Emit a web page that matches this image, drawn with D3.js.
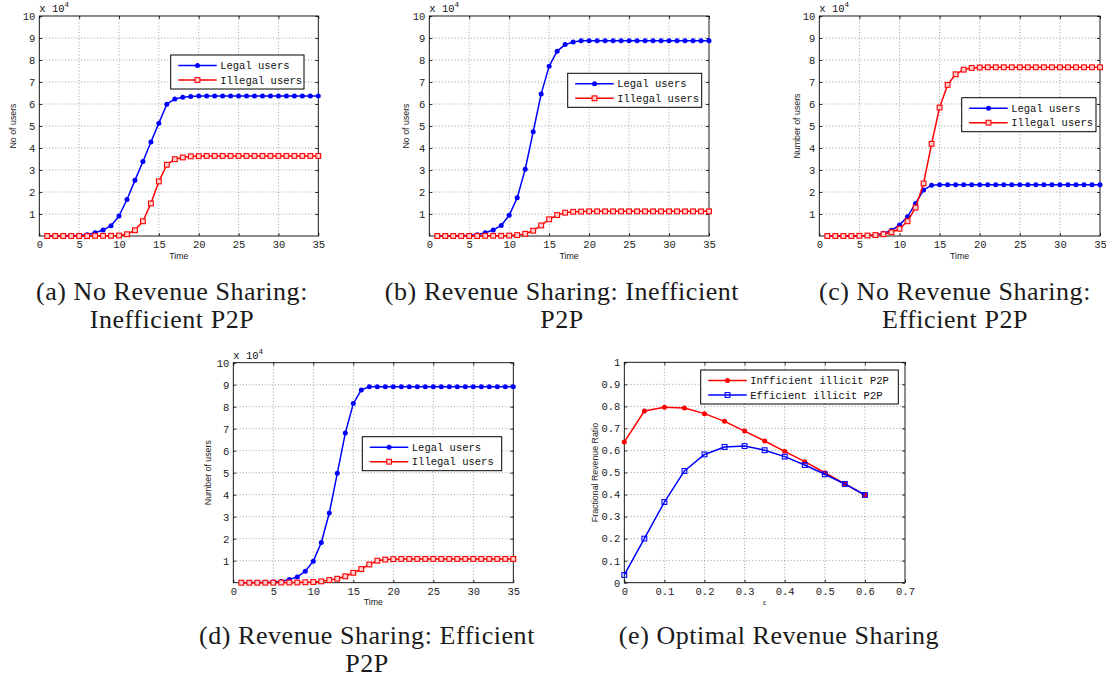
<!DOCTYPE html>
<html>
<head>
<meta charset="utf-8">
<script src="https://cdn.jsdelivr.net/npm/d3@7"></script>
<style>
  body { margin: 0; background: #fff; }
  svg { display: block; }
  .tick text { font-family: 'Liberation Mono', 'DejaVu Sans Mono', monospace; font-size: 10.5px; fill: #222; }
  .tick line { stroke: #000; stroke-width: 0.8; }
  .grid { stroke: #777; stroke-width: 0.7; stroke-dasharray: 1 2.2; }
  .frame { fill: none; stroke: #000; stroke-width: 0.9; }
  .axis-label { font-family: 'Liberation Sans', Arial, sans-serif; font-size: 8.8px; fill: #222; }
  .legend-text { font-family: 'Liberation Mono', 'DejaVu Sans Mono', monospace; font-size: 10.5px; fill: #111; }
  .caption { font-family: 'Liberation Serif', 'Times New Roman', serif; font-size: 26px; letter-spacing: 0.55px; fill: #1a1a1a; }
</style>
</head>
<body>
<svg id="chart" width="1106" height="679"></svg>
<script>
// time steps (x axis of a-d)
const time = [1, 2, 3, 4, 5, 6, 7, 8, 9, 10, 11, 12, 13, 14, 15, 16, 17, 18, 19, 20,
  21, 22, 23, 24, 25, 26, 27, 28, 29, 30, 31, 32, 33, 34, 35];

// users, in units of 10^4
const legalA = [0.01, 0.01, 0.01, 0.02, 0.03, 0.06, 0.15, 0.27, 0.47, 0.91, 1.66, 2.53, 3.39, 4.27, 5.13, 5.99, 6.23, 6.31, 6.34, 6.36,
  6.36, 6.36, 6.36, 6.36, 6.36, 6.36, 6.36, 6.36, 6.36, 6.36, 6.36, 6.36, 6.36, 6.36, 6.36];
const illegalA = [0, 0, 0, 0, 0, 0, 0.01, 0.01, 0.01, 0.02, 0.08, 0.26, 0.67, 1.48, 2.48, 3.24, 3.49, 3.57, 3.62, 3.63,
  3.64, 3.64, 3.64, 3.64, 3.64, 3.64, 3.64, 3.64, 3.64, 3.64, 3.64, 3.64, 3.64, 3.64, 3.64];

const legalB = [0.01, 0.01, 0.01, 0.02, 0.03, 0.06, 0.15, 0.27, 0.48, 0.94, 1.74, 3.03, 4.74, 6.46, 7.72, 8.40, 8.70, 8.82, 8.87, 8.88,
  8.88, 8.88, 8.88, 8.88, 8.88, 8.88, 8.88, 8.88, 8.88, 8.88, 8.88, 8.88, 8.88, 8.88, 8.88];
const illegalB = [0, 0, 0, 0, 0, 0, 0.01, 0.01, 0.01, 0.02, 0.04, 0.10, 0.24, 0.48, 0.76, 0.95, 1.06, 1.10, 1.11, 1.12,
  1.12, 1.12, 1.12, 1.12, 1.12, 1.12, 1.12, 1.12, 1.12, 1.12, 1.12, 1.12, 1.12, 1.12, 1.12];

const legalC = [0, 0, 0, 0.01, 0.01, 0.02, 0.05, 0.12, 0.26, 0.50, 0.88, 1.48, 2.09, 2.31, 2.33, 2.33, 2.33, 2.33, 2.33, 2.33,
  2.33, 2.33, 2.33, 2.33, 2.33, 2.33, 2.33, 2.33, 2.33, 2.33, 2.33, 2.33, 2.33, 2.33, 2.33];
const illegalC = [0, 0, 0, 0, 0.01, 0.02, 0.04, 0.08, 0.17, 0.33, 0.67, 1.29, 2.39, 4.19, 5.84, 6.87, 7.35, 7.56, 7.64, 7.66,
  7.67, 7.67, 7.67, 7.67, 7.67, 7.67, 7.67, 7.67, 7.67, 7.67, 7.67, 7.67, 7.67, 7.67, 7.67];

const legalD = [0, 0.01, 0.01, 0.02, 0.03, 0.06, 0.15, 0.26, 0.52, 0.98, 1.83, 3.17, 4.97, 6.80, 8.14, 8.76, 8.91, 8.91, 8.91, 8.91,
  8.91, 8.91, 8.91, 8.91, 8.91, 8.91, 8.91, 8.91, 8.91, 8.91, 8.91, 8.91, 8.91, 8.91, 8.91];
const illegalD = [0, 0, 0, 0, 0, 0.01, 0.01, 0.01, 0.02, 0.03, 0.06, 0.12, 0.18, 0.29, 0.45, 0.62, 0.83, 1.00, 1.05, 1.07,
  1.08, 1.08, 1.08, 1.08, 1.08, 1.08, 1.08, 1.08, 1.08, 1.08, 1.08, 1.08, 1.08, 1.08, 1.08];

// optimal revenue sharing
const epsilon = [0, 0.05, 0.1, 0.15, 0.2, 0.25, 0.3, 0.35, 0.4, 0.45, 0.5, 0.55, 0.6];
const inefficientRatio = [0.638, 0.779, 0.796, 0.793, 0.767, 0.732, 0.688, 0.643, 0.596, 0.549, 0.499, 0.448, 0.398];
const efficientRatio = [0.035, 0.200, 0.366, 0.507, 0.582, 0.616, 0.620, 0.601, 0.572, 0.534, 0.492, 0.448, 0.398];

const timeTicks = [0, 5, 10, 15, 20, 25, 30, 35];
const userTicks = [1, 2, 3, 4, 5, 6, 7, 8, 9, 10];
const epsTicks = [0, 0.1, 0.2, 0.3, 0.4, 0.5, 0.6, 0.7];
const ratioTicks = [0, 0.1, 0.2, 0.3, 0.4, 0.5, 0.6, 0.7, 0.8, 0.9, 1];

const BLUE = '#0000ff';
const RED = '#ff0000';

const svg = d3.select('#chart');

const panels = [
  {
    box: [39.3, 16, 318.3, 236], ylabel: 'No of users', ylabelOff: 23, legend: [170.7, 55, 133.3],
    series: [
      { name: 'Legal users', x: time, y: legalA, color: BLUE, marker: 'circle' },
      { name: 'Illegal users', x: time, y: illegalA, color: RED, marker: 'square' }
    ]
  },
  {
    box: [429.3, 16, 709, 236], ylabel: 'No of users', ylabelOff: 20, legend: [567.7, 73.3, 134],
    series: [
      { name: 'Legal users', x: time, y: legalB, color: BLUE, marker: 'circle' },
      { name: 'Illegal users', x: time, y: illegalB, color: RED, marker: 'square' }
    ]
  },
  {
    box: [819.3, 16, 1100, 236], ylabel: 'Number of users', ylabelOff: 19.5, legend: [961.7, 97.7, 134.3],
    series: [
      { name: 'Legal users', x: time, y: legalC, color: BLUE, marker: 'circle' },
      { name: 'Illegal users', x: time, y: illegalC, color: RED, marker: 'square' }
    ]
  },
  {
    box: [233.3, 362.7, 513.3, 582.7], ylabel: 'Number of users', ylabelOff: 22, legend: [362.3, 436.7, 139.4],
    series: [
      { name: 'Legal users', x: time, y: legalD, color: BLUE, marker: 'circle' },
      { name: 'Illegal users', x: time, y: illegalD, color: RED, marker: 'square' }
    ]
  }
].map(p => Object.assign(p, {
  xDomain: [0, 35], yDomain: [0, 10], xTicks: timeTicks, yTicks: userTicks,
  xGrid: timeTicks.slice(1, -1), yGrid: userTicks.slice(0, -1),
  xlabel: 'Time', xFormat: d => d, yFormat: d => d, exponent: true
}));

panels.push({
  box: [624.3, 362.3, 905, 582.7], ylabel: 'Fractional Revenue Ratio', ylabelOff: 26, legend: [700.7, 370, 197.6],
  xDomain: [0, 0.7], yDomain: [0, 1], xTicks: epsTicks, yTicks: ratioTicks,
  xGrid: epsTicks.slice(1, -1), yGrid: ratioTicks.slice(1, -1),
  xlabel: 'ε', xlabelSize: 7, xFormat: d3.format('~g'), yFormat: d3.format('~g'), exponent: false,
  series: [
    { name: 'Infficient illicit P2P', x: epsilon, y: inefficientRatio, color: RED, marker: 'circle' },
    { name: 'Efficient illicit P2P', x: epsilon, y: efficientRatio, color: BLUE, marker: 'square' }
  ]
});

function addMarker(sel, type, color, cx, cy) {
  if (type === 'circle') {
    sel.append('circle').attr('cx', cx).attr('cy', cy).attr('r', 2.5).attr('fill', color);
  } else {
    sel.append('rect')
      .attr('x', cx - 2.4).attr('y', cy - 2.4).attr('width', 4.8).attr('height', 4.8)
      .attr('fill', '#ffd0d0').attr('fill-opacity', color === RED ? 1 : 0)
      .attr('stroke', color).attr('stroke-width', 1.1);
  }
}

function drawPanel(p) {
  const [left, top, right, bottom] = p.box;
  const x = d3.scaleLinear().domain(p.xDomain).range([left, right]);
  const y = d3.scaleLinear().domain(p.yDomain).range([bottom, top]);
  const g = svg.append('g');

  // grid
  g.selectAll('.gx').data(p.xGrid).join('line')
    .attr('class', 'grid')
    .attr('x1', d => x(d)).attr('x2', d => x(d))
    .attr('y1', top).attr('y2', bottom);
  g.selectAll('.gy').data(p.yGrid).join('line')
    .attr('class', 'grid')
    .attr('x1', left).attr('x2', right)
    .attr('y1', d => y(d)).attr('y2', d => y(d));

  // axes, ticks point inward like matlab
  g.append('g').attr('transform', `translate(0,${bottom})`)
    .call(d3.axisBottom(x).tickValues(p.xTicks).tickSize(-3).tickPadding(5).tickFormat(p.xFormat))
    .call(a => a.select('.domain').remove());
  g.append('g').attr('transform', `translate(${left},0)`)
    .call(d3.axisLeft(y).tickValues(p.yTicks).tickSize(-3).tickPadding(4).tickFormat(p.yFormat))
    .call(a => a.select('.domain').remove());
  g.append('g').attr('transform', `translate(0,${top})`)
    .call(d3.axisTop(x).tickValues(p.xTicks).tickSize(-3).tickFormat(''))
    .call(a => a.select('.domain').remove());
  g.append('g').attr('transform', `translate(${right},0)`)
    .call(d3.axisRight(y).tickValues(p.yTicks).tickSize(-3).tickFormat(''))
    .call(a => a.select('.domain').remove());

  g.append('rect').attr('class', 'frame')
    .attr('x', left).attr('y', top).attr('width', right - left).attr('height', bottom - top);

  // labels
  g.append('text').attr('class', 'axis-label')
    .attr('x', (left + right) / 2).attr('y', bottom + 22.5)
    .attr('text-anchor', 'middle')
    .style('font-size', p.xlabelSize ? `${p.xlabelSize}px` : null)
    .text(p.xlabel);
  g.append('text').attr('class', 'axis-label')
    .attr('transform', `translate(${left - p.ylabelOff},${(top + bottom) / 2}) rotate(-90)`)
    .attr('text-anchor', 'middle')
    .text(p.ylabel);

  if (p.exponent) {
    const ex = g.append('text').attr('class', 'legend-text')
      .attr('x', left).attr('y', top - 4);
    ex.append('tspan').text('x 10');
    ex.append('tspan').attr('dy', -5).style('font-size', '7.5px').text('4');
  }

  // series
  const line = d3.line().x(d => x(d[0])).y(d => y(d[1]));
  p.series.forEach(s => {
    const pts = s.x.map((v, i) => [v, s.y[i]]);
    g.append('path').datum(pts)
      .attr('d', line)
      .attr('fill', 'none')
      .attr('stroke', s.color)
      .attr('stroke-width', 1.5)
      .attr('stroke-linejoin', 'round');
    const mg = g.append('g');
    pts.forEach(d => addMarker(mg, s.marker, s.color, x(d[0]), y(d[1])));
  });

  // legend
  const [lx, ly, lw] = p.legend;
  const lg = g.append('g');
  lg.append('rect')
    .attr('x', lx).attr('y', ly).attr('width', lw).attr('height', 34)
    .attr('fill', '#fff').attr('stroke', '#000').attr('stroke-width', 1);
  p.series.forEach((s, i) => {
    const ry = ly + 10.5 + i * 14.5;
    lg.append('line')
      .attr('x1', lx + 7.5).attr('x2', lx + 46)
      .attr('y1', ry).attr('y2', ry)
      .attr('stroke', s.color).attr('stroke-width', 1.5);
    addMarker(lg, s.marker, s.color, lx + 26.8, ry);
    lg.append('text').attr('class', 'legend-text')
      .attr('x', lx + 49.5).attr('y', ry).attr('dy', '0.35em')
      .text(s.name);
  });
}

panels.forEach(drawPanel);

// sub-figure captions
const captions = [
  { lines: ['(a) No Revenue Sharing:', 'Inefficient P2P'], cx: 172, y: 300 },
  { lines: ['(b) Revenue Sharing: Inefficient', 'P2P'], cx: 562, y: 300 },
  { lines: ['(c) No Revenue Sharing:', 'Efficient P2P'], cx: 955, y: 300 },
  { lines: ['(d) Revenue Sharing: Efficient', 'P2P'], cx: 367, y: 644 },
  { lines: ['(e) Optimal Revenue Sharing'], cx: 779, y: 644 }
];

captions.forEach(c => {
  svg.append('g').selectAll('text')
    .data(c.lines)
    .join('text')
    .attr('class', 'caption')
    .attr('x', c.cx)
    .attr('y', (d, i) => c.y + i * 28)
    .attr('text-anchor', 'middle')
    .text(d => d);
});
</script>
</body>
</html>
